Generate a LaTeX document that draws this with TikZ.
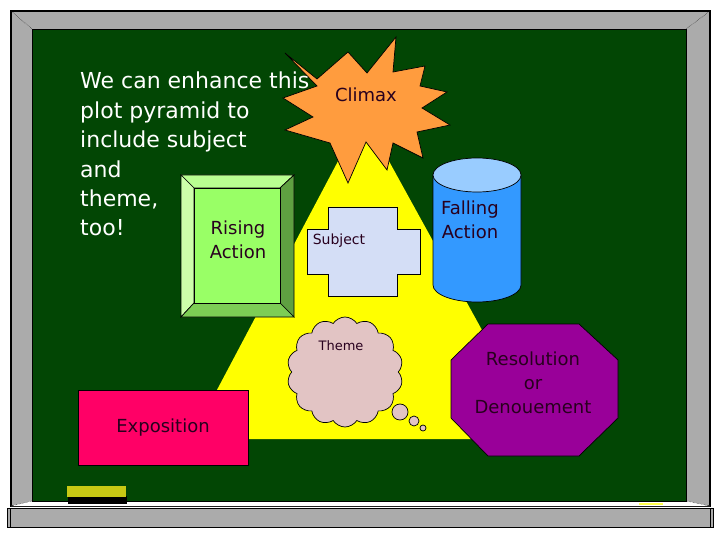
\documentclass[tikz,border=0pt]{standalone}
\usepackage{fontspec}
\setmainfont{DejaVu Sans}
\usetikzlibrary{shapes.symbols}

\definecolor{board}{RGB}{2,70,4}
\definecolor{framegray}{RGB}{171,171,171}
\definecolor{pyr}{RGB}{255,255,0}
\definecolor{starorange}{RGB}{255,156,62}
\definecolor{riseface}{RGB}{153,255,102}
\definecolor{risetop}{RGB}{185,255,145}
\definecolor{riseleft}{RGB}{205,255,170}
\definecolor{riseright}{RGB}{95,160,65}
\definecolor{risebottom}{RGB}{125,205,85}
\definecolor{subjblue}{RGB}{212,222,246}
\definecolor{themepink}{RGB}{226,196,196}
\definecolor{cylbody}{RGB}{51,153,255}
\definecolor{cyltop}{RGB}{153,204,255}
\definecolor{resolpurple}{RGB}{153,0,153}
\definecolor{expopink}{RGB}{255,0,102}
\definecolor{eraser}{RGB}{200,200,20}
\definecolor{ink}{RGB}{40,0,30}

\begin{document}
\begin{tikzpicture}[x=1pt, y=-1pt,
    lbl/.style={align=center, inner sep=0pt, text=ink, font=\fontsize{18}{24}\selectfont},
    small/.style={inner sep=0pt, text=ink, font=\fontsize{14}{17}\selectfont},
    shp/.style={draw=black, line width=0.7pt}
  ]
  \useasboundingbox (0,0) rectangle (720,540);
  \fill[white] (0,0) rectangle (720,540);

  % board and frame
  \draw[fill=framegray, line width=1.2pt] (11,11) rectangle (710,506);
  \fill[white] (11,506) -- (32,501) -- (686,501) -- (710,506) -- cycle;
  \draw[densely dotted, line width=0.4pt] (11,11) -- (32,29) (710,11) -- (686,29)
    (11,506) -- (32,501) (710,506) -- (686,501);
  \draw[fill=board, line width=0.6pt] (32,29) rectangle (686,501);
  \draw[fill=framegray, line width=0.8pt] (7,508) rectangle (713,527);
  \draw[line width=0.5pt] (10,508) -- (10,527) (710,508) -- (710,527);
  \fill[black] (68,496) rectangle (127,504);
  \fill[eraser] (67,486) rectangle (126,497);
  \fill[pyr!70!white] (639,503) rectangle (663,505);

  % pyramid
  \fill[pyr] (363,114) -- (191,439) -- (542,439) -- cycle;

  % climax star
  \draw[shp, fill=starorange] (285,53) -- (317,79) -- (348,52) -- (367,73) -- (396,37)
    -- (393,72) -- (425,66) -- (420,86) -- (447,92) -- (422,108) -- (450,125)
    -- (417,132) -- (423,158) -- (393,143) -- (387,170) -- (366,142) -- (348,183)
    -- (330,143) -- (285,130) -- (313,117) -- (283,98) -- (317,86) -- cycle;
  \node[lbl] (climax) at (366,95) {Climax};

  % intro text
  \node[anchor=north west, align=left, inner sep=0pt, text=white,
    font=\fontsize{22}{29.4}\selectfont] (intro) at (80,72)
    {We can enhance this\\plot pyramid to\\include subject\\and\\theme,\\too!};

  % rising action bevel box
  \draw[shp, fill=risetop] (181,175) -- (294,175) -- (280,188) -- (194,188) -- cycle;
  \draw[shp, fill=riseleft] (181,175) -- (194,188) -- (194,303) -- (181,317) -- cycle;
  \draw[shp, fill=riseright] (294,175) -- (294,317) -- (280,303) -- (280,188) -- cycle;
  \draw[shp, fill=risebottom] (181,317) -- (194,303) -- (280,303) -- (294,317) -- cycle;
  \draw[shp, fill=riseface] (194,188) rectangle (280,303);
  \node[lbl] (rise) at (238,240) {Rising\\Action};

  % subject cross
  \draw[shp, fill=subjblue] (328,207) -- (397,207) -- (397,229) -- (420,229) -- (420,274)
    -- (397,274) -- (397,296) -- (328,296) -- (328,274) -- (307,274) -- (307,229)
    -- (328,229) -- cycle;
  \node[small] (subj) at (339,241) {Subject};

  % theme cloud
  \node[cloud, cloud puffs=14, cloud puff arc=115, aspect=1.05, shp, fill=themepink,
    minimum width=116, minimum height=110, inner sep=0pt] (theme) at (345,372) {};
  \node[small, font=\fontsize{13}{16}\selectfont] (themetxt) at (341,346) {Theme};
  \draw[shp, fill=themepink] (400,412) circle (8);
  \draw[shp, fill=themepink] (414,421) circle (5);
  \draw[shp, fill=themepink] (423,428) circle (3);

  % falling action cylinder
  \draw[shp, fill=cylbody] (433,175) -- (433,285) arc[start angle=180, end angle=0,
    x radius=44, y radius=17] -- (521,175) -- cycle;
  \draw[shp, fill=cyltop] (477,175) ellipse [x radius=44, y radius=17];
  \node[lbl] (fall) at (470,220) {Falling\\Action};

  % resolution octagon
  \draw[shp, fill=resolpurple] (488,324) -- (579,324) -- (618,360) -- (618,418)
    -- (579,456) -- (488,456) -- (451,418) -- (451,360) -- cycle;
  \node[lbl] (resol) at (533,383) {Resolution\\or\\Denouement};

  % exposition
  \node[shp, fill=expopink, minimum width=170, minimum height=75, inner sep=0pt,
    text=ink, font=\fontsize{18}{24}\selectfont] (expo) at (163,427.5) {Exposition};
\end{tikzpicture}
\end{document}
